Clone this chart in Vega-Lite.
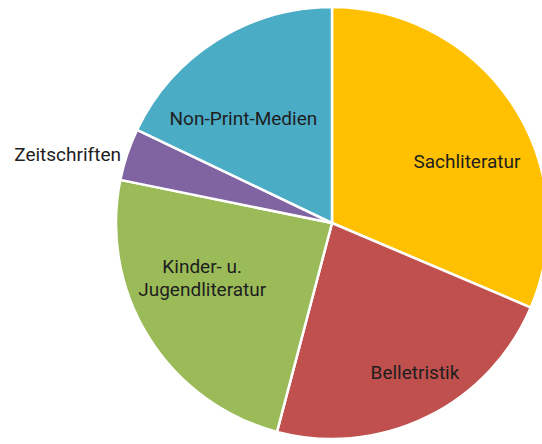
{
  "$schema": "https://vega.github.io/schema/vega-lite/v6.json",
  "width": 420,
  "height": 444,
  "autosize": {"type": "none"},
  "padding": {"left": 122, "top": 1, "right": 0, "bottom": -1},
  "background": "white",
  "view": {"stroke": null},
  "config": {"text": {"font": "Roboto", "fontSize": 19, "fill": "#1e1e1e"}},
  "data": {
    "values": [
      {"idx": 1, "label": "Sachliteratur", "value": 31.4},
      {"idx": 2, "label": "Belletristik", "value": 22.7},
      {"idx": 3, "label": "Kinder- u.\nJugendliteratur", "value": 24.1},
      {"idx": 4, "label": "Zeitschriften", "value": 3.9},
      {"idx": 5, "label": "Non-Print-Medien", "value": 17.9}
    ]
  },
  "encoding": {
    "theta": {"field": "value", "type": "quantitative", "stack": true},
    "order": {"field": "idx", "type": "quantitative"}
  },
  "layer": [
    {
      "mark": {"type": "arc", "outerRadius": 216, "stroke": "white", "strokeWidth": 2.5},
      "encoding": {
        "color": {
          "field": "label",
          "type": "nominal",
          "scale": {
            "domain": ["Sachliteratur", "Belletristik", "Kinder- u.\nJugendliteratur", "Zeitschriften", "Non-Print-Medien"],
            "range": ["#FFC000", "#C0504D", "#9BBB59", "#8064A2", "#4BACC6"]
          },
          "legend": null
        }
      }
    },
    {
      "mark": {"type": "text", "radius": 148, "thetaOffset": 0.161},
      "encoding": {"text": {"condition": {"test": "datum.idx === 1", "field": "label"}, "value": ""}}
    },
    {
      "mark": {"type": "text", "radius": 171, "thetaOffset": -0.051},
      "encoding": {"text": {"condition": {"test": "datum.idx === 2", "field": "label"}, "value": ""}}
    },
    {
      "mark": {"type": "text", "radius": 137, "thetaOffset": 0.23, "lineBreak": "\n", "lineHeight": 23},
      "encoding": {"text": {"condition": {"test": "datum.idx === 3", "field": "label"}, "value": ""}}
    },
    {
      "mark": {"type": "text", "radius": 273, "thetaOffset": -0.072},
      "encoding": {"text": {"condition": {"test": "datum.idx === 4", "field": "label"}, "value": ""}}
    },
    {
      "mark": {"type": "text", "radius": 137, "thetaOffset": -0.141},
      "encoding": {"text": {"condition": {"test": "datum.idx === 5", "field": "label"}, "value": ""}}
    }
  ]
}
